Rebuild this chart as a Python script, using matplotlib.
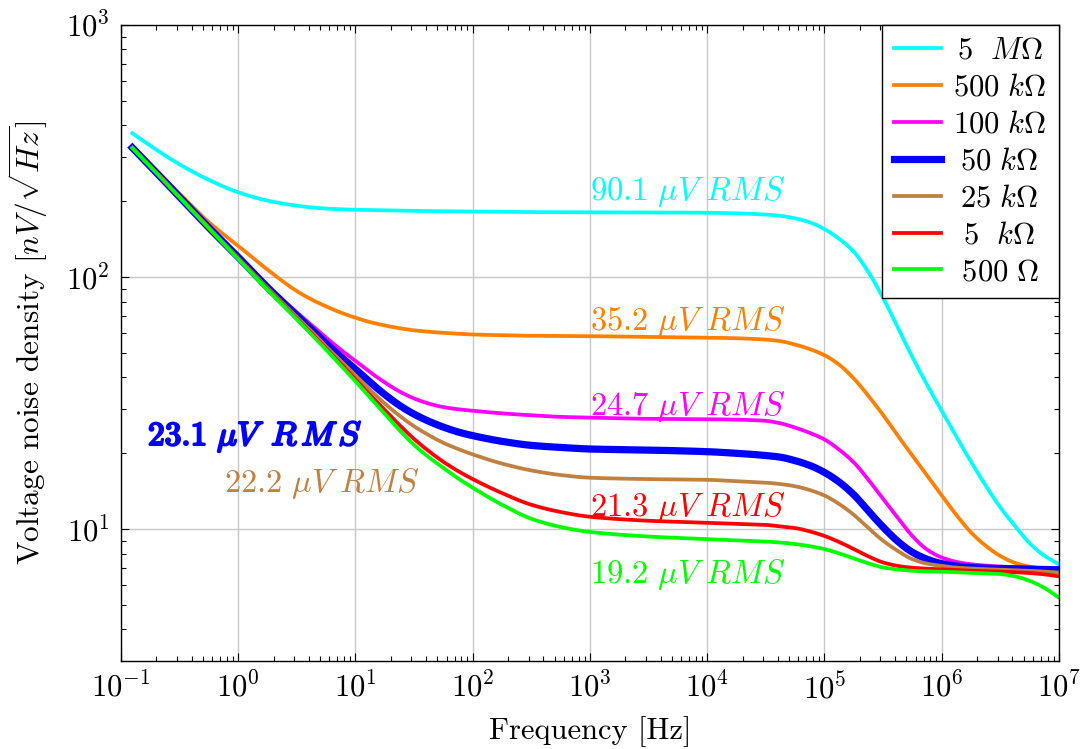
import numpy as np
import matplotlib
matplotlib.use("Agg")
import matplotlib.pyplot as plt
import matplotlib.patheffects as pe

plt.rcParams.update({
    "font.family": "serif",
    "font.serif": ["cmr10"],
    "mathtext.fontset": "cm",
    "axes.formatter.use_mathtext": True,
})

# Frequency grid of the noise sweeps [Hz]
freq_hz = [0.125, 0.178, 0.316, 0.562, 1.0, 1.78,
           3.16, 4.22, 5.62, 7.50, 10.0, 13.3, 17.8, 23.7, 31.6, 42.2, 56.2, 75.0, 100.0,
           178.0, 316.0, 562.0, 1e3, 3.16e3, 1e4, 1.78e4,
           3.16e4, 4.22e4, 5.62e4, 7.50e4, 1e5, 1.33e5, 1.78e5, 2.37e5, 3.16e5, 4.22e5,
           5.62e5, 7.50e5, 1e6, 1.33e6, 1.78e6, 2.37e6, 3.16e6, 4.22e6, 5.62e6, 7.50e6, 1e7]

# Voltage noise density [nV/sqrt(Hz)] for each source resistance
noise_5M = [372, 332, 280, 243, 217, 201,
            192, 189, 187, 185.8, 185, 184.5, 184, 183.5, 183, 182.8, 182.5, 182.2, 182,
            181.5, 181, 181, 180.7, 180.5, 180, 179,
            177, 175, 171, 165, 155, 142, 126, 104.7, 82.8, 63.1,
            48.2, 37.4, 29.5, 23.3, 18.5, 14.9, 12.2, 10.3, 8.8, 7.85, 7.26]
noise_500k = [330, 280, 214, 165, 133, 107,
              88, 81.5, 76.5, 72.3, 69, 66.3, 64.3, 62.7, 61.5, 60.7, 60.1, 59.6, 59.2,
              58.8, 58.5, 58.4, 58.3, 57.9, 57.5, 57.2,
              56.5, 55.7, 54.0, 51.8, 49.0, 45.0, 39.6, 33.8, 28.4, 23.5,
              19.6, 16.3, 13.6, 11.4, 9.7, 8.6, 7.83, 7.35, 7.1, 6.95, 6.84]
noise_100k = [326, 275, 208, 158, 121, 92,
              72.5, 64.5, 57.5, 51.5, 46.5, 42.0, 38.2, 35.2, 33.0, 31.5, 30.5, 29.9, 29.5,
              28.8, 28.3, 27.9, 27.7, 27.4, 27.3, 27.2,
              26.9, 26.3, 25.3, 24.1, 22.7, 20.7, 18.4, 15.7, 13.2, 11.1,
              9.4, 8.3, 7.72, 7.42, 7.26, 7.17, 7.11, 7.07, 7.04, 7.01, 6.98]
noise_50k = [326, 275, 208, 157, 120, 91,
             70.5, 62, 54.5, 48.3, 43.1, 38.3, 34.2, 31.0, 28.6, 26.8, 25.4, 24.3, 23.5,
             22.3, 21.5, 21.1, 20.8, 20.6, 20.3, 20.0,
             19.6, 19.3, 18.7, 17.9, 16.8, 15.4, 13.7, 11.8, 10.2, 8.95,
             8.1, 7.6, 7.3, 7.14, 7.05, 7.0, 6.98, 6.96, 6.94, 6.92, 6.9]
noise_25k = [326, 275, 208, 157, 119, 90.5,
             69.5, 61, 53, 46.5, 40.7, 35.7, 31.5, 28.2, 25.6, 23.6, 22.0, 20.8, 19.8,
             18.2, 17.1, 16.4, 16.0, 15.8, 15.7, 15.5,
             15.3, 15.1, 14.8, 14.3, 13.6, 12.6, 11.4, 10.1, 9.0, 8.2,
             7.6, 7.3, 7.15, 7.04, 6.98, 6.94, 6.9, 6.87, 6.84, 6.79, 6.73]
noise_5k = [325, 274.5, 207, 156, 118.5, 89.5,
            68.5, 59.8, 52, 45.3, 39.3, 34.1, 29.7, 25.9, 22.8, 20.4, 18.5, 17.0, 15.8,
            13.9, 12.5, 11.7, 11.2, 10.8, 10.6, 10.5,
            10.4, 10.25, 10.1, 9.8, 9.4, 8.9, 8.34, 7.8, 7.38, 7.15,
            7.03, 6.97, 6.93, 6.89, 6.84, 6.81, 6.78, 6.75, 6.70, 6.62, 6.50]
noise_500 = [325, 274.5, 207, 156, 118, 89,
             68, 59.2, 51.5, 44.6, 38.6, 33.3, 28.7, 24.7, 21.6, 19.3, 17.5, 15.9, 14.6,
             12.5, 11.0, 10.2, 9.75, 9.35, 9.13, 9.03,
             8.93, 8.85, 8.73, 8.56, 8.34, 8.02, 7.66, 7.32, 7.05, 6.92,
             6.84, 6.8, 6.78, 6.75, 6.71, 6.68, 6.64, 6.5, 6.24, 5.85, 5.35]

series = [noise_5M, noise_500k, noise_100k, noise_50k, noise_25k, noise_5k, noise_500]
labels = [r"$\,5\ \ M\Omega$", r"$500\ k\Omega$", r"$100\ k\Omega$",
          r"$\;50\ k\Omega$", r"$\;25\ k\Omega$", r"$\>\,5\ \ k\Omega$",
          r"$\ 500\ \Omega$"]
colors = ["#00FFFF", "#FF8000", "#FF00FF", "#0000FF", "#BF8040", "#FF0000", "#00FF00"]
widths = [2.7, 2.7, 2.7, 5.2, 2.7, 2.7, 2.7]

# Integrated RMS noise per resistance
rms_labels = ["90.1", "35.2", "24.7", "23.1", "22.2", "21.3", "19.2"]


def smooth_loglog(x, y, per_seg=16):
    """Monotone cubic (Fritsch-Carlson) curve through the points in log-log space."""
    lx = np.log10(np.asarray(x, float))
    ly = np.log10(np.asarray(y, float))
    h = np.diff(lx)
    d = np.diff(ly) / h
    m = np.zeros_like(lx)
    m[0], m[-1] = d[0], d[-1]
    for k in range(1, len(lx) - 1):
        if d[k - 1] * d[k] <= 0:
            m[k] = 0.0
        else:
            w1 = 2 * h[k] + h[k - 1]
            w2 = h[k] + 2 * h[k - 1]
            m[k] = (w1 + w2) / (w1 / d[k - 1] + w2 / d[k])
    xs, ys = [], []
    t = np.linspace(0, 1, per_seg, endpoint=False)
    for k in range(len(h)):
        h00 = 2 * t**3 - 3 * t**2 + 1
        h10 = t**3 - 2 * t**2 + t
        h01 = -2 * t**3 + 3 * t**2
        h11 = t**3 - t**2
        xs.append(lx[k] + t * h[k])
        ys.append(h00 * ly[k] + h10 * h[k] * m[k] + h01 * ly[k + 1] + h11 * h[k] * m[k + 1])
    xs.append([lx[-1]])
    ys.append([ly[-1]])
    return 10 ** np.concatenate(xs), 10 ** np.concatenate(ys)


fig = plt.figure(figsize=(10.87, 7.49), dpi=100)
ax = fig.add_axes([0.1113, 0.1175, 0.8629, 0.8491])
ax.set_xscale("log")
ax.set_yscale("log")

for y, lab, c, w in zip(series, labels, colors, widths):
    sx, sy = smooth_loglog(freq_hz, y)
    ax.plot(sx, sy, color=c, lw=w, label=lab, solid_joinstyle="round")

ax.set_xlim(0.1, 1e7)
ax.set_ylim(3.0, 1000)
ax.set_axisbelow(True)
ax.grid(True, which="major", color="#c8c8c8", lw=1.0)
ax.tick_params(which="both", direction="in", top=True, right=True,
               labelsize=22, width=0.8)
ax.tick_params(which="major", length=6, pad=8)
ax.tick_params(which="minor", length=3.5)
for s in ax.spines.values():
    s.set_linewidth(1.0)

ax.set_xlabel("Frequency [Hz]", fontsize=22, labelpad=8)
ax.set_ylabel(r"Voltage noise density $[nV/\sqrt{Hz}]$", fontsize=22.5, labelpad=12)

# RMS annotations next to the plateaus
txt_kw = dict(fontsize=23.5, va="center", ha="left")
ax.text(1e3, 218, rf"${rms_labels[0]}\ \mu V\ RMS$", color=colors[0], **txt_kw)
ax.text(1e3, 66.7, rf"${rms_labels[1]}\ \mu V\ RMS$", color=colors[1], **txt_kw)
ax.text(1e3, 30.7, rf"${rms_labels[2]}\ \mu V\ RMS$", color=colors[2], **txt_kw)
ax.text(0.17, 23.3, rf"$\mathbf{{{rms_labels[3]}}}\ \mu V\ \,R\,M\,S$", color=colors[3],
        path_effects=[pe.withStroke(linewidth=1.6, foreground=colors[3])],
        fontsize=24, va="center", ha="left")
ax.text(0.756, 15.2, rf"${rms_labels[4]}\ \mu V\ RMS$", color=colors[4], **txt_kw)
ax.text(1e3, 12.2, rf"${rms_labels[5]}\ \mu V\ RMS$", color=colors[5], **txt_kw)
ax.text(1e3, 6.63, rf"${rms_labels[6]}\ \mu V\ RMS$", color=colors[6], **txt_kw)

leg = ax.legend(loc="upper right", bbox_to_anchor=(1, 1), borderaxespad=0,
                fancybox=False, edgecolor="black", framealpha=1, fontsize=22,
                handlelength=1.55, handletextpad=0.4, labelspacing=0.31,
                borderpad=0.4)
leg.get_frame().set_linewidth(1.0)

fig.savefig("out.png", dpi=100)
